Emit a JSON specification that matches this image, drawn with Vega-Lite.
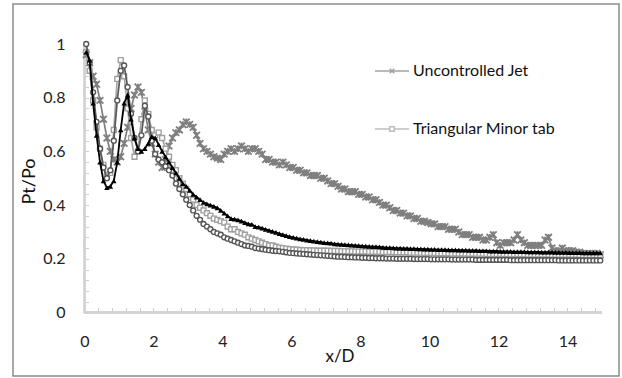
{
  "$schema": "https://vega.github.io/schema/vega-lite/v6.json",
  "width": 606,
  "height": 372,
  "autosize": {"type": "none"},
  "padding": {"left": 13, "top": 4, "right": 3, "bottom": 2},
  "background": "white",
  "config": {
    "view": {"stroke": "#8c8c8c", "strokeWidth": 1.5},
    "font": "Lato",
    "legend": {
      "orient": "none", "legendX": 361, "legendY": 49, "direction": "vertical",
      "padding": 0, "rowPadding": 32, "labelFontSize": 16, "labelFont": "Lato",
      "labelColor": "#111111", "labelOffset": 3, "symbolSize": 1156,
      "symbolStrokeWidth": 1.5, "symbolFillColor": "white", "title": null
    }
  },
  "data": {"values": [
    {"x":0.05,"u":0.96,"t":0.97,"c":1.0,"b":0.97},
    {"x":0.15,"u":0.93,"t":0.90,"c":0.93,"b":0.94},
    {"x":0.25,"u":0.88,"t":0.79,"c":0.82,"b":0.78},
    {"x":0.35,"u":0.85,"t":0.69,"c":0.71,"b":0.66},
    {"x":0.45,"u":0.79,"t":0.61,"c":0.61,"b":0.56},
    {"x":0.55,"u":0.72,"t":0.55,"c":0.54,"b":0.49},
    {"x":0.65,"u":0.65,"t":0.51,"c":0.50,"b":0.465},
    {"x":0.75,"u":0.60,"t":0.52,"c":0.53,"b":0.47},
    {"x":0.85,"u":0.57,"t":0.68,"c":0.64,"b":0.49},
    {"x":0.95,"u":0.56,"t":0.87,"c":0.79,"b":0.56},
    {"x":1.05,"u":0.58,"t":0.94,"c":0.90,"b":0.68},
    {"x":1.15,"u":0.63,"t":0.88,"c":0.92,"b":0.78},
    {"x":1.25,"u":0.69,"t":0.76,"c":0.84,"b":0.81},
    {"x":1.35,"u":0.76,"t":0.65,"c":0.74,"b":0.72},
    {"x":1.45,"u":0.81,"t":0.58,"c":0.65,"b":0.65},
    {"x":1.55,"u":0.84,"t":0.60,"c":0.60,"b":0.61},
    {"x":1.65,"u":0.82,"t":0.72,"c":0.66,"b":0.60},
    {"x":1.75,"u":0.75,"t":0.79,"c":0.77,"b":0.61},
    {"x":1.85,"u":0.68,"t":0.74,"c":0.73,"b":0.63},
    {"x":1.95,"u":0.63,"t":0.68,"c":0.64,"b":0.655},
    {"x":2.05,"u":0.59,"t":0.66,"c":0.59,"b":0.65},
    {"x":2.15,"u":0.56,"t":0.67,"c":0.57,"b":0.625},
    {"x":2.25,"u":0.54,"t":0.65,"c":0.56,"b":0.60},
    {"x":2.35,"u":0.57,"t":0.61,"c":0.545,"b":0.58},
    {"x":2.45,"u":0.62,"t":0.58,"c":0.53,"b":0.56},
    {"x":2.55,"u":0.65,"t":0.55,"c":0.51,"b":0.54},
    {"x":2.65,"u":0.67,"t":0.53,"c":0.48,"b":0.52},
    {"x":2.75,"u":0.68,"t":0.50,"c":0.46,"b":0.50},
    {"x":2.85,"u":0.70,"t":0.48,"c":0.44,"b":0.48},
    {"x":2.95,"u":0.71,"t":0.46,"c":0.42,"b":0.47},
    {"x":3.05,"u":0.70,"t":0.44,"c":0.40,"b":0.455},
    {"x":3.15,"u":0.69,"t":0.42,"c":0.38,"b":0.44},
    {"x":3.25,"u":0.66,"t":0.40,"c":0.36,"b":0.43},
    {"x":3.35,"u":0.63,"t":0.39,"c":0.345,"b":0.42},
    {"x":3.45,"u":0.61,"t":0.38,"c":0.33,"b":0.41},
    {"x":3.55,"u":0.60,"t":0.37,"c":0.32,"b":0.405},
    {"x":3.65,"u":0.59,"t":0.36,"c":0.31,"b":0.40},
    {"x":3.75,"u":0.58,"t":0.35,"c":0.30,"b":0.395},
    {"x":3.85,"u":0.575,"t":0.345,"c":0.295,"b":0.39},
    {"x":3.95,"u":0.57,"t":0.34,"c":0.29,"b":0.38},
    {"x":4.05,"u":0.59,"t":0.335,"c":0.28,"b":0.37},
    {"x":4.15,"u":0.60,"t":0.32,"c":0.275,"b":0.36},
    {"x":4.25,"u":0.61,"t":0.31,"c":0.27,"b":0.35},
    {"x":4.35,"u":0.60,"t":0.31,"c":0.265,"b":0.348},
    {"x":4.45,"u":0.61,"t":0.30,"c":0.26,"b":0.345},
    {"x":4.55,"u":0.62,"t":0.295,"c":0.255,"b":0.34},
    {"x":4.65,"u":0.61,"t":0.29,"c":0.25,"b":0.335},
    {"x":4.75,"u":0.60,"t":0.28,"c":0.248,"b":0.33},
    {"x":4.85,"u":0.61,"t":0.275,"c":0.245,"b":0.328},
    {"x":4.95,"u":0.61,"t":0.27,"c":0.24,"b":0.32},
    {"x":5.05,"u":0.60,"t":0.265,"c":0.238,"b":0.318},
    {"x":5.15,"u":0.59,"t":0.26,"c":0.236,"b":0.314},
    {"x":5.25,"u":0.57,"t":0.255,"c":0.234,"b":0.31},
    {"x":5.35,"u":0.57,"t":0.25,"c":0.232,"b":0.306},
    {"x":5.45,"u":0.56,"t":0.25,"c":0.23,"b":0.302},
    {"x":5.55,"u":0.56,"t":0.245,"c":0.229,"b":0.298},
    {"x":5.65,"u":0.55,"t":0.242,"c":0.228,"b":0.294},
    {"x":5.75,"u":0.56,"t":0.24,"c":0.226,"b":0.29},
    {"x":5.85,"u":0.55,"t":0.238,"c":0.224,"b":0.286},
    {"x":5.95,"u":0.54,"t":0.236,"c":0.222,"b":0.283},
    {"x":6.05,"u":0.54,"t":0.235,"c":0.221,"b":0.28},
    {"x":6.15,"u":0.53,"t":0.234,"c":0.22,"b":0.277},
    {"x":6.25,"u":0.53,"t":0.233,"c":0.219,"b":0.274},
    {"x":6.35,"u":0.52,"t":0.232,"c":0.218,"b":0.272},
    {"x":6.45,"u":0.52,"t":0.232,"c":0.217,"b":0.27},
    {"x":6.55,"u":0.51,"t":0.231,"c":0.216,"b":0.268},
    {"x":6.65,"u":0.51,"t":0.231,"c":0.215,"b":0.266},
    {"x":6.75,"u":0.51,"t":0.23,"c":0.214,"b":0.264},
    {"x":6.85,"u":0.50,"t":0.23,"c":0.213,"b":0.262},
    {"x":6.95,"u":0.50,"t":0.23,"c":0.212,"b":0.26},
    {"x":7.05,"u":0.49,"t":0.23,"c":0.211,"b":0.259},
    {"x":7.15,"u":0.48,"t":0.229,"c":0.21,"b":0.258},
    {"x":7.25,"u":0.48,"t":0.229,"c":0.209,"b":0.256},
    {"x":7.35,"u":0.47,"t":0.229,"c":0.208,"b":0.255},
    {"x":7.45,"u":0.46,"t":0.228,"c":0.208,"b":0.254},
    {"x":7.55,"u":0.46,"t":0.228,"c":0.207,"b":0.253},
    {"x":7.65,"u":0.45,"t":0.228,"c":0.206,"b":0.252},
    {"x":7.75,"u":0.45,"t":0.228,"c":0.206,"b":0.251},
    {"x":7.85,"u":0.45,"t":0.227,"c":0.205,"b":0.25},
    {"x":7.95,"u":0.44,"t":0.227,"c":0.205,"b":0.249},
    {"x":8.05,"u":0.44,"t":0.227,"c":0.204,"b":0.248},
    {"x":8.15,"u":0.43,"t":0.227,"c":0.204,"b":0.247},
    {"x":8.25,"u":0.43,"t":0.226,"c":0.203,"b":0.246},
    {"x":8.35,"u":0.42,"t":0.226,"c":0.203,"b":0.245},
    {"x":8.45,"u":0.42,"t":0.226,"c":0.202,"b":0.245},
    {"x":8.55,"u":0.41,"t":0.226,"c":0.202,"b":0.244},
    {"x":8.65,"u":0.40,"t":0.225,"c":0.202,"b":0.243},
    {"x":8.75,"u":0.40,"t":0.225,"c":0.201,"b":0.242},
    {"x":8.85,"u":0.39,"t":0.225,"c":0.201,"b":0.242},
    {"x":8.95,"u":0.38,"t":0.225,"c":0.201,"b":0.241},
    {"x":9.05,"u":0.38,"t":0.224,"c":0.2,"b":0.24},
    {"x":9.15,"u":0.37,"t":0.224,"c":0.2,"b":0.24},
    {"x":9.25,"u":0.37,"t":0.224,"c":0.2,"b":0.239},
    {"x":9.35,"u":0.36,"t":0.224,"c":0.2,"b":0.239},
    {"x":9.45,"u":0.36,"t":0.223,"c":0.2,"b":0.238},
    {"x":9.55,"u":0.35,"t":0.223,"c":0.199,"b":0.238},
    {"x":9.65,"u":0.35,"t":0.223,"c":0.199,"b":0.237},
    {"x":9.75,"u":0.34,"t":0.223,"c":0.199,"b":0.237},
    {"x":9.85,"u":0.34,"t":0.222,"c":0.199,"b":0.236},
    {"x":9.95,"u":0.335,"t":0.222,"c":0.199,"b":0.236},
    {"x":10.05,"u":0.33,"t":0.222,"c":0.198,"b":0.235},
    {"x":10.15,"u":0.33,"t":0.222,"c":0.198,"b":0.235},
    {"x":10.25,"u":0.32,"t":0.221,"c":0.198,"b":0.234},
    {"x":10.35,"u":0.32,"t":0.221,"c":0.198,"b":0.234},
    {"x":10.45,"u":0.32,"t":0.221,"c":0.198,"b":0.234},
    {"x":10.55,"u":0.31,"t":0.221,"c":0.198,"b":0.233},
    {"x":10.65,"u":0.31,"t":0.22,"c":0.197,"b":0.233},
    {"x":10.75,"u":0.31,"t":0.22,"c":0.197,"b":0.233},
    {"x":10.85,"u":0.30,"t":0.22,"c":0.197,"b":0.232},
    {"x":10.95,"u":0.29,"t":0.22,"c":0.197,"b":0.232},
    {"x":11.05,"u":0.29,"t":0.22,"c":0.197,"b":0.232},
    {"x":11.15,"u":0.29,"t":0.219,"c":0.197,"b":0.231},
    {"x":11.25,"u":0.28,"t":0.219,"c":0.197,"b":0.231},
    {"x":11.35,"u":0.28,"t":0.219,"c":0.196,"b":0.231},
    {"x":11.45,"u":0.28,"t":0.219,"c":0.196,"b":0.23},
    {"x":11.55,"u":0.27,"t":0.219,"c":0.196,"b":0.23},
    {"x":11.65,"u":0.27,"t":0.218,"c":0.196,"b":0.23},
    {"x":11.75,"u":0.28,"t":0.218,"c":0.196,"b":0.229},
    {"x":11.85,"u":0.29,"t":0.218,"c":0.196,"b":0.229},
    {"x":11.95,"u":0.26,"t":0.218,"c":0.196,"b":0.229},
    {"x":12.05,"u":0.25,"t":0.218,"c":0.196,"b":0.228},
    {"x":12.15,"u":0.26,"t":0.218,"c":0.196,"b":0.228},
    {"x":12.25,"u":0.26,"t":0.217,"c":0.196,"b":0.228},
    {"x":12.35,"u":0.26,"t":0.217,"c":0.195,"b":0.228},
    {"x":12.45,"u":0.27,"t":0.217,"c":0.195,"b":0.227},
    {"x":12.55,"u":0.29,"t":0.217,"c":0.195,"b":0.227},
    {"x":12.65,"u":0.27,"t":0.217,"c":0.195,"b":0.227},
    {"x":12.75,"u":0.26,"t":0.217,"c":0.195,"b":0.227},
    {"x":12.85,"u":0.25,"t":0.216,"c":0.195,"b":0.226},
    {"x":12.95,"u":0.25,"t":0.216,"c":0.195,"b":0.226},
    {"x":13.05,"u":0.25,"t":0.216,"c":0.195,"b":0.226},
    {"x":13.15,"u":0.25,"t":0.216,"c":0.195,"b":0.226},
    {"x":13.25,"u":0.25,"t":0.216,"c":0.195,"b":0.225},
    {"x":13.35,"u":0.27,"t":0.216,"c":0.195,"b":0.225},
    {"x":13.45,"u":0.28,"t":0.216,"c":0.195,"b":0.225},
    {"x":13.55,"u":0.24,"t":0.215,"c":0.195,"b":0.225},
    {"x":13.65,"u":0.23,"t":0.215,"c":0.195,"b":0.224},
    {"x":13.75,"u":0.23,"t":0.215,"c":0.194,"b":0.224},
    {"x":13.85,"u":0.24,"t":0.215,"c":0.194,"b":0.224},
    {"x":13.95,"u":0.23,"t":0.215,"c":0.194,"b":0.224},
    {"x":14.05,"u":0.23,"t":0.215,"c":0.194,"b":0.223},
    {"x":14.15,"u":0.23,"t":0.215,"c":0.194,"b":0.223},
    {"x":14.25,"u":0.225,"t":0.215,"c":0.194,"b":0.223},
    {"x":14.35,"u":0.225,"t":0.214,"c":0.194,"b":0.223},
    {"x":14.45,"u":0.22,"t":0.214,"c":0.194,"b":0.222},
    {"x":14.55,"u":0.22,"t":0.214,"c":0.194,"b":0.222},
    {"x":14.65,"u":0.22,"t":0.214,"c":0.194,"b":0.222},
    {"x":14.75,"u":0.22,"t":0.214,"c":0.194,"b":0.222},
    {"x":14.85,"u":0.22,"t":0.214,"c":0.194,"b":0.222},
    {"x":14.95,"u":0.215,"t":0.214,"c":0.194,"b":0.222}
  ]},
  "layer": [
    {
      "mark": {"type": "rule", "color": "#d4d4d4", "strokeWidth": 1.5},
      "encoding": {
        "x": {"datum": 0, "type": "quantitative"},
        "x2": {"datum": 15},
        "y": {"datum": 0, "type": "quantitative"}
      }
    },
    {
      "mark": {"type": "rule", "color": "#d4d4d4", "strokeWidth": 1.5},
      "encoding": {
        "x": {"datum": 0, "type": "quantitative"},
        "y": {"datum": 0, "type": "quantitative"},
        "y2": {"datum": 1}
      }
    },
    {
      "mark": {"type": "line", "color": "#7f7f7f", "strokeWidth": 1.7,
        "point": {"shape": "M-1,-1L1,1M-1,1L1,-1M0,-1L0,1", "size": 44, "filled": false, "stroke": "#7f7f7f", "strokeWidth": 1.8}},
      "encoding": {
        "x": {"field": "x", "type": "quantitative", "title": "x/D",
          "scale": {"domain": [-2.072, 15.493], "nice": false, "zero": false},
          "axis": {"orient": "bottom", "offset": -63.5, "domain": false, "grid": false,
            "values": [0,0.4,0.8,1.2,1.6,2,2.4,2.8,3.2,3.6,4,4.4,4.8,5.2,5.6,6,6.4,6.8,7.2,7.6,8,8.4,8.8,9.2,9.6,10,10.4,10.8,11.2,11.6,12,12.4,12.8,13.2,13.6,14,14.4,14.8],
            "tickCount": 100,
            "tickSize": -5, "tickColor": "#cfcfcf", "tickWidth": 1,
            "labelExpr": "abs(datum.value - 2*round(datum.value/2)) < 0.01 ? datum.value : ''",
            "labelOverlap": false, "labelFlush": false, "labelPadding": 26,
            "labelFontSize": 16, "labelColor": "#222222", "labelFont": "Lato",
            "titleFontSize": 17, "titleFontWeight": "normal", "titleColor": "#111111", "titleFont": "Lato",
            "titleX": 326.5, "titleY": 43.5, "titleBaseline": "middle"}},
        "y": {"field": "u", "type": "quantitative", "title": "Pt/Po",
          "scale": {"domain": [-0.2365, 1.149], "nice": false, "zero": false},
          "axis": {"orient": "left", "offset": -71.5, "domain": false, "grid": false,
            "values": [0,0.04,0.08,0.12,0.16,0.2,0.24,0.28,0.32,0.36,0.4,0.44,0.48,0.52,0.56,0.6,0.64,0.68,0.72,0.76,0.8,0.84,0.88,0.92,0.96,1],
            "tickCount": 100,
            "tickSize": -4, "tickColor": "#cfcfcf", "tickWidth": 1,
            "labelExpr": "abs(datum.value*5 - round(datum.value*5)) < 0.01 ? datum.value : ''",
            "labelOverlap": false, "labelFlush": false, "labelPadding": 23.5,
            "labelFontSize": 16, "labelColor": "#222222", "labelFont": "Lato",
            "titleFontSize": 18, "titleFontWeight": "normal", "titleColor": "#111111", "titleFont": "Lato",
            "titleX": -55.5, "titleY": 177, "titleBaseline": "middle", "titleAngle": -90}}
      }
    },
    {
      "mark": {"type": "line", "color": "#a5a5a5", "strokeWidth": 1.7,
        "point": {"shape": "square", "size": 24, "filled": true, "fill": "white", "stroke": "#a0a0a0", "strokeWidth": 1.4}},
      "encoding": {
        "x": {"field": "x", "type": "quantitative", "title": "x/D", "scale": {"domain": [-2.072, 15.493], "nice": false, "zero": false}},
        "y": {"field": "t", "type": "quantitative", "title": "Pt/Po", "scale": {"domain": [-0.2365, 1.149], "nice": false, "zero": false}}
      }
    },
    {
      "mark": {"type": "line", "color": "#595959", "strokeWidth": 1.7,
        "point": {"shape": "circle", "size": 24, "filled": true, "fill": "white", "stroke": "#555555", "strokeWidth": 1.4}},
      "encoding": {
        "x": {"field": "x", "type": "quantitative", "title": "x/D", "scale": {"domain": [-2.072, 15.493], "nice": false, "zero": false}},
        "y": {"field": "c", "type": "quantitative", "title": "Pt/Po", "scale": {"domain": [-0.2365, 1.149], "nice": false, "zero": false}}
      }
    },
    {
      "mark": {"type": "line", "color": "#000000", "strokeWidth": 1.8,
        "point": {"shape": "triangle-up", "size": 30, "filled": true, "color": "#000000"}},
      "encoding": {
        "x": {"field": "x", "type": "quantitative", "title": "x/D", "scale": {"domain": [-2.072, 15.493], "nice": false, "zero": false}},
        "y": {"field": "b", "type": "quantitative", "title": "Pt/Po", "scale": {"domain": [-0.2365, 1.149], "nice": false, "zero": false}}
      }
    },
    {
      "transform": [{"filter": "datum.x < -100"}],
      "mark": {"type": "point", "filled": false},
      "encoding": {
        "shape": {"field": "s", "type": "nominal",
          "scale": {"domain": ["Uncontrolled Jet", "Triangular Minor tab"],
            "range": ["M-1,0H1M-0.13,-0.13L0.13,0.13M-0.13,0.13L0.13,-0.13", "M-1,0H-0.13M0.13,0H1M-0.13,-0.13H0.13V0.13H-0.13Z"]}},
        "stroke": {"field": "s", "type": "nominal",
          "scale": {"domain": ["Uncontrolled Jet", "Triangular Minor tab"], "range": ["#7f7f7f", "#a5a5a5"]}}
      }
    }
  ]
}
